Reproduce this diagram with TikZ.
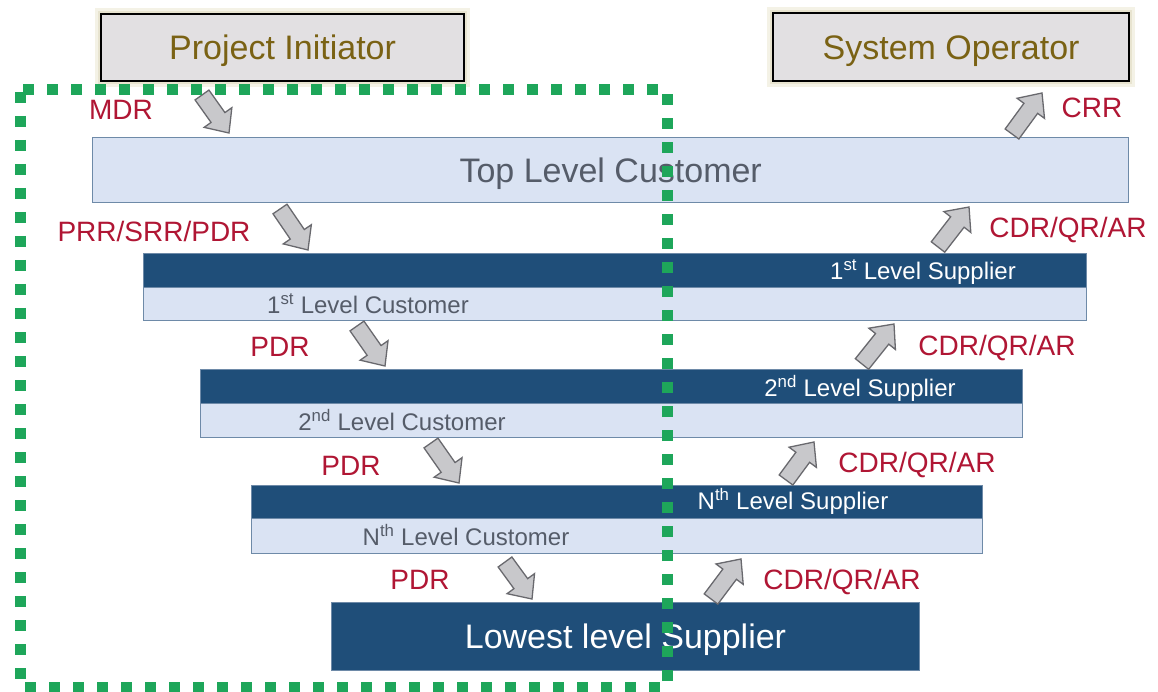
\documentclass[tikz,border=0pt]{standalone}
\usepackage{fontspec}
\setmainfont{Liberation Sans}
\usetikzlibrary{calc}
\definecolor{lblred}{RGB}{176,22,52}
\definecolor{olivetxt}{RGB}{122,98,20}
\definecolor{graytxt}{RGB}{85,92,105}
\definecolor{darkblue}{RGB}{31,78,121}
\definecolor{lightblue}{RGB}{218,227,243}
\definecolor{boxedge}{RGB}{110,138,168}
\definecolor{headfill}{RGB}{226,224,226}
\definecolor{glowa}{RGB}{244,242,230}
\definecolor{glowb}{RGB}{232,228,208}
\definecolor{arrowfill}{RGB}{200,200,203}
\definecolor{arrowedge}{RGB}{105,105,110}
\definecolor{dotgreen}{RGB}{30,166,90}
\tikzset{
  headbox/.style={draw=black, line width=2.2pt, fill=headfill,
    preaction={draw=glowa, line width=12pt},
    preaction={draw=glowb, line width=6pt}, inner sep=0pt},
  lightbox/.style={draw=boxedge, line width=1.4pt, fill=lightblue, inner sep=0pt},
  darkband/.style={draw=boxedge, line width=1pt, fill=darkblue, inner sep=0pt},
  bigtxt/.style={font=\fontsize{34}{40}\selectfont, text height=24.5pt, text depth=0pt, inner sep=0pt},
  lvltxt/.style={font=\fontsize{24}{28}\selectfont, text height=17.2pt, text depth=0pt, inner sep=0pt},
  lbl/.style={font=\fontsize{28}{32}\selectfont, text=lblred, text height=20pt, text depth=0pt, inner sep=0pt},
  blockarrow/.style={draw=arrowedge, fill=arrowfill, line width=1.3pt, line join=miter,
    to path={
      ($(\tikztostart)!8.5pt!90:(\tikztotarget)$)
      -- ($(\tikztotarget)!19pt!(\tikztostart)!8.5pt!-90:(\tikztostart)$)
      -- ($(\tikztotarget)!19pt!(\tikztostart)!17pt!-90:(\tikztostart)$)
      -- (\tikztotarget)
      -- ($(\tikztotarget)!19pt!(\tikztostart)!17pt!90:(\tikztostart)$)
      -- ($(\tikztotarget)!19pt!(\tikztostart)!8.5pt!90:(\tikztostart)$)
      -- ($(\tikztostart)!8.5pt!-90:(\tikztotarget)$)
      -- cycle}},
  greendots/.style={draw=dotgreen, line width=11pt, dash pattern=on 11pt off 13pt, dash phase=-2pt}
}
\begin{document}
\begin{tikzpicture}[x=1pt,y=-1pt]
\useasboundingbox[fill=white] (0,0) rectangle (1158,692);

% head boxes
\node[headbox, minimum width=363pt, minimum height=67pt, anchor=north west] (init) at (100,13) {};
\node[bigtxt, text=olivetxt] (initt) at (init.center) {Project Initiator};
\node[headbox, minimum width=356pt, minimum height=68pt, anchor=north west] (oper) at (772,12) {};
\node[bigtxt, text=olivetxt] (opert) at (oper.center) {System Operator};

% top level customer
\node[lightbox, minimum width=1036pt, minimum height=65pt, anchor=north west] (top) at (92,137) {};
\node[bigtxt, text=graytxt] (topt) at (top.center) {Top Level Customer};

% level 1
\node[lightbox, minimum width=943pt, minimum height=67pt, anchor=north west] (l1) at (143,253) {};
\node[darkband, minimum width=943pt, minimum height=34pt, anchor=north west] (l1s) at (l1.north west) {};
\node[lvltxt, text=white] (l1st) at (923,271) {1\textsuperscript{st} Level Supplier};
\node[lvltxt, text=graytxt] (l1ct) at (368,305) {1\textsuperscript{st} Level Customer};

% level 2
\node[lightbox, minimum width=822pt, minimum height=68pt, anchor=north west] (l2) at (200,369) {};
\node[darkband, minimum width=822pt, minimum height=34pt, anchor=north west] (l2s) at (l2.north west) {};
\node[lvltxt, text=white] (l2st) at (860,388) {2\textsuperscript{nd} Level Supplier};
\node[lvltxt, text=graytxt] (l2ct) at (402,422) {2\textsuperscript{nd} Level Customer};

% level N
\node[lightbox, minimum width=731pt, minimum height=68pt, anchor=north west] (ln) at (251,485) {};
\node[darkband, minimum width=731pt, minimum height=33pt, anchor=north west] (lns) at (ln.north west) {};
\node[lvltxt, text=white] (lnst) at (793,501) {N\textsuperscript{th} Level Supplier};
\node[lvltxt, text=graytxt] (lnct) at (466,537) {N\textsuperscript{th} Level Customer};

% lowest
\node[darkband, minimum width=588pt, minimum height=68pt, anchor=north west] (low) at (331,602) {};
\node[bigtxt, text=white] (lowt) at (low.center) {Lowest level Supplier};

% arrow end points
\coordinate (a1s) at (202,95);   \coordinate (a1e) at (229,133);
\coordinate (a2s) at (280,209);  \coordinate (a2e) at (308,250);
\coordinate (a3s) at (357,326);  \coordinate (a3e) at (385,366);
\coordinate (a4s) at (431,443);  \coordinate (a4e) at (459,483);
\coordinate (a5s) at (505,562);  \coordinate (a5e) at (532,599);
\coordinate (b1s) at (1012,134); \coordinate (b1e) at (1042,93);
\coordinate (b2s) at (938,247);  \coordinate (b2e) at (969,207);
\coordinate (b3s) at (862,364);  \coordinate (b3e) at (894,324);
\coordinate (b4s) at (786,480);  \coordinate (b4e) at (814,442);
\coordinate (b5s) at (711,599);  \coordinate (b5e) at (741,559);

\foreach \s/\e in {a1s/a1e,a2s/a2e,a3s/a3e,a4s/a4e,a5s/a5e,b1s/b1e,b2s/b2e,b3s/b3e,b4s/b4e,b5s/b5e}
  \draw[blockarrow] (\s) to (\e);

% labels
\node[lbl] (mdr) at (121,110) {MDR};
\node[lbl] (crr) at (1092,108) {CRR};
\node[lbl] (prr) at (154,232) {PRR/SRR/PDR};
\node[lbl] (pdr1) at (280,346) {PDR};
\node[lbl] (pdr2) at (351,465) {PDR};
\node[lbl] (pdr3) at (420,579) {PDR};
\node[lbl] (cdr1) at (1068,228) {CDR/QR/AR};
\node[lbl] (cdr2) at (997,345) {CDR/QR/AR};
\node[lbl] (cdr3) at (917,462) {CDR/QR/AR};
\node[lbl] (cdr4) at (842,579) {CDR/QR/AR};

% green dotted frame
\draw[greendots] (20,90) rectangle (667,687);
\end{tikzpicture}
\end{document}
